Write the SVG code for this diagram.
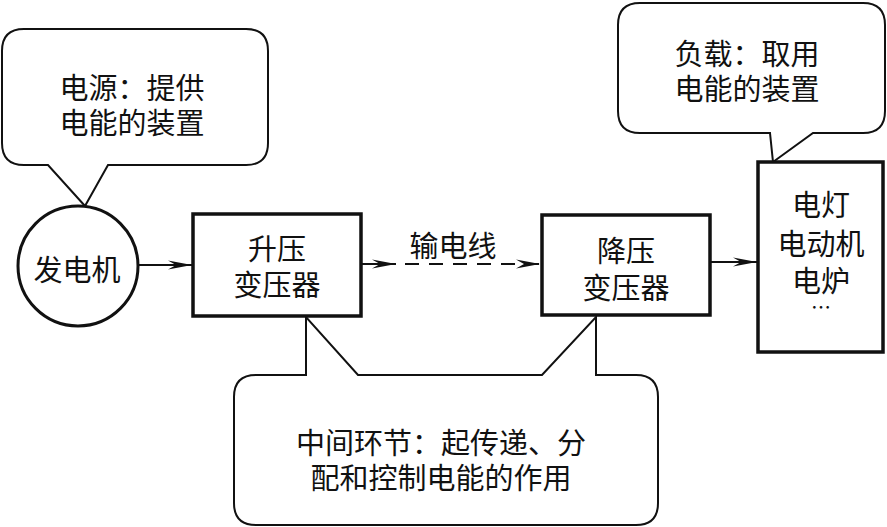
<svg xmlns="http://www.w3.org/2000/svg" width="887" height="527" viewBox="0 0 887 527">
<defs>
<style>
.t{font-family:"Noto Sans CJK SC","Noto Sans CJK JP",sans-serif;font-size:29px;fill:#111;text-anchor:middle;dominant-baseline:central}
.call{fill:#fff;stroke:#111;stroke-width:2;stroke-linejoin:miter}
.box{fill:#fff;stroke:#111;stroke-width:3.5}
.ln{fill:none;stroke:#111;stroke-width:2}
</style>
<marker id="ah" markerUnits="userSpaceOnUse" viewBox="-24 -6 26 12" refX="0" refY="0" markerWidth="26" markerHeight="12" orient="auto">
<path d="M0,0 L-24,-4.5 L-16,0 L-24,4.5 Z" fill="#111"/>
</marker>
</defs>
<rect width="887" height="527" fill="#fff"/>
<g id="callout-source">
<path class="call" d="M24,29 H246 Q268,29 268,51 V143 Q268,165 246,165 H108 L85,206 L48,165 H24 Q2,165 2,143 V51 Q2,29 24,29 Z"/>
<text class="t"><tspan x="132" y="86">电源：提供</tspan><tspan x="132" y="121">电能的装置</tspan></text>
</g>
<g id="callout-load">
<path class="call" d="M640,3 H863 Q885,3 885,25 V111 Q885,133 863,133 H813 L773,162 L770,133 H640 Q618,133 618,111 V25 Q618,3 640,3 Z"/>
<text class="t"><tspan x="747" y="52">负载：取用</tspan><tspan x="747" y="87">电能的装置</tspan></text>
</g>
<g id="callout-middle">
<path class="call" d="M256,375 H306 V317 L358,375 H542 L596,317 V375 H636 Q658,375 658,397 V503 Q658,525 636,525 H256 Q234,525 234,503 V397 Q234,375 256,375 Z"/>
<text class="t"><tspan x="441" y="441">中间环节：起传递、分</tspan><tspan x="441" y="476">配和控制电能的作用</tspan></text>
</g>
<g id="connectors">
<line class="ln" x1="139" y1="265" x2="192" y2="265" marker-end="url(#ah)"/>
<line class="ln" x1="361" y1="264" x2="396" y2="264" marker-end="url(#ah)"/>
<line class="ln" x1="405" y1="264" x2="540" y2="264" stroke-dasharray="14 10" marker-end="url(#ah)"/>
<line class="ln" x1="710" y1="262" x2="757" y2="262" marker-end="url(#ah)"/>
</g>
<g id="generator">
<circle cx="78" cy="266" r="60" fill="#fff" stroke="#111" stroke-width="3"/>
<text class="t" x="77" y="268">发电机</text>
</g>
<g id="step-up">
<rect class="box" x="193" y="214" width="168" height="102"/>
<text class="t"><tspan x="277" y="247">升压</tspan><tspan x="277" y="283">变压器</tspan></text>
</g>
<g id="line-label">
<text class="t" x="453" y="244">输电线</text>
</g>
<g id="step-down">
<rect class="box" x="542" y="215" width="168" height="100" stroke-width="4"/>
<text class="t"><tspan x="626" y="249">降压</tspan><tspan x="626" y="286">变压器</tspan></text>
</g>
<g id="load">
<rect class="box" x="758" y="162" width="125" height="190" stroke-width="4"/>
<text class="t"><tspan x="821" y="203">电灯</tspan><tspan x="821" y="242">电动机</tspan><tspan x="821" y="279">电炉</tspan><tspan x="821" y="306" style="font-size:20px">…</tspan></text>
</g>
</svg>
